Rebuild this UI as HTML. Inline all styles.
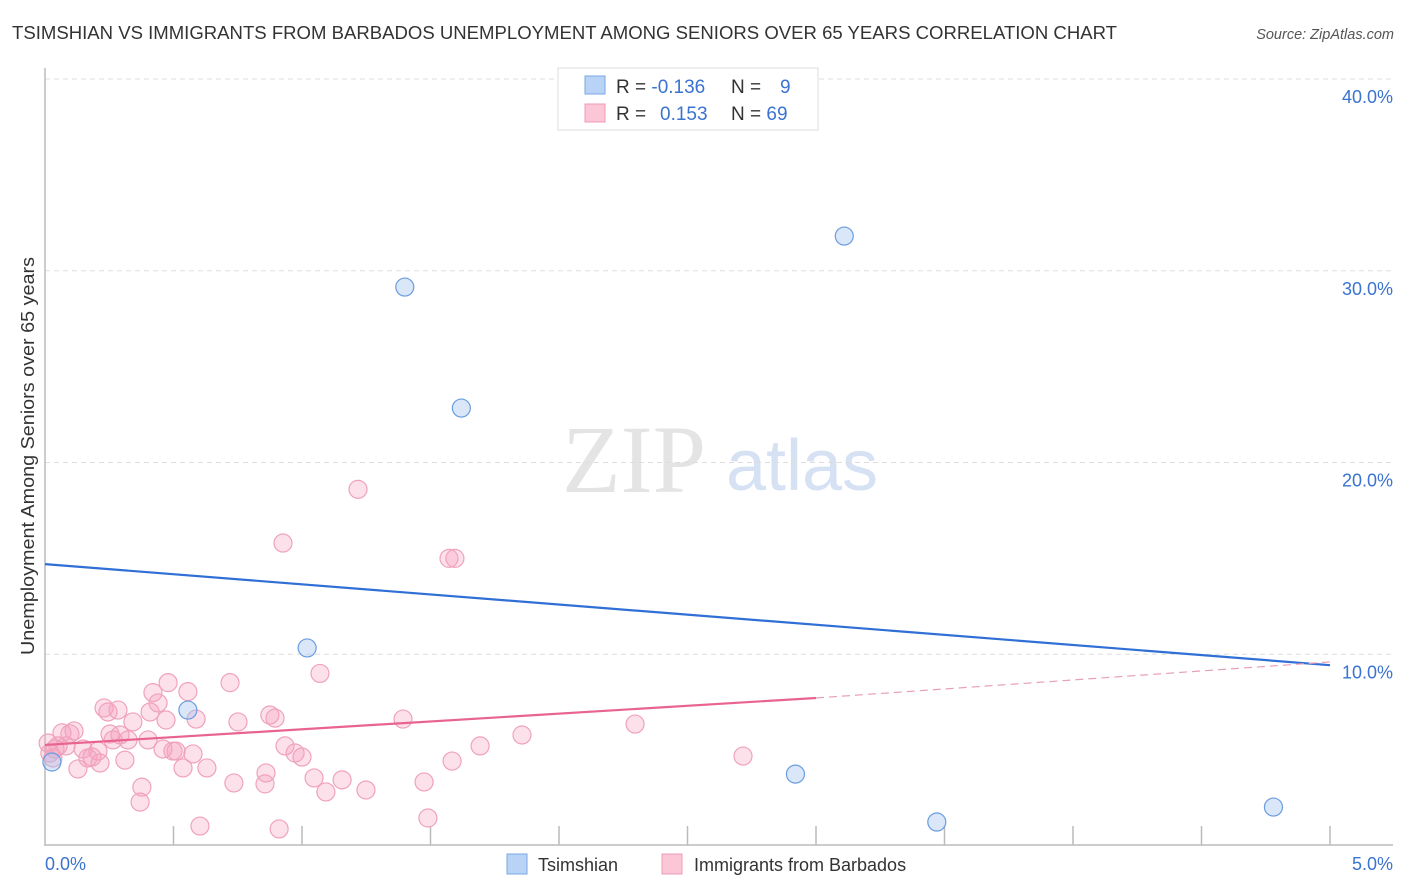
<!DOCTYPE html>
<html><head><meta charset="utf-8"><style>
body{margin:0;background:#fff;font-family:"Liberation Sans",sans-serif;}
svg{display:block}
</style></head><body>
<svg id="chart" width="1406" height="892" xmlns="http://www.w3.org/2000/svg">
<text x="12" y="39" font-size="18" fill="#333" textLength="1105" lengthAdjust="spacingAndGlyphs">TSIMSHIAN VS IMMIGRANTS FROM BARBADOS UNEMPLOYMENT AMONG SENIORS OVER 65 YEARS CORRELATION CHART</text>
<text x="1394" y="39" font-size="14.5" fill="#555" font-style="italic" text-anchor="end">Source: ZipAtlas.com</text>
<text x="634" y="492" font-size="96" fill="#e4e4e4" font-family="Liberation Serif,serif" text-anchor="middle">ZIP</text>
<text x="802" y="490" font-size="72" fill="#d6e2f4" text-anchor="middle">atlas</text>
<g id="grid"></g>
<g id="axes"></g>
<g id="marks"></g>
<text transform="translate(34,655) rotate(-90)" font-size="18" fill="#333" textLength="398" lengthAdjust="spacingAndGlyphs">Unemployment Among Seniors over 65 years</text>
<g>
<rect x="558" y="68" width="260" height="62" fill="#fff" stroke="#ddd"/>
<rect x="585" y="76" width="20" height="18" fill="#b8d3f5" stroke="#7aa7e2"/>
<rect x="585" y="104" width="20" height="18" fill="#fbc7d6" stroke="#f09ab6"/>
<text x="616" y="93" font-size="19" fill="#333">R = <tspan fill="#3a73d0">-0.136</tspan></text>
<text x="731" y="93" font-size="19" fill="#333">N = <tspan fill="#3a73d0" x="780">9</tspan></text>
<text x="616" y="120" font-size="19" fill="#333">R = <tspan fill="#3a73d0" x="660">0.153</tspan></text>
<text x="731" y="120" font-size="19" fill="#333">N = <tspan fill="#3a73d0">69</tspan></text>
</g>
<g>
<rect x="507" y="854" width="20" height="20" fill="#b8d3f5" stroke="#7aa7e2"/>
<text x="538" y="871" font-size="18" fill="#333">Tsimshian</text>
<rect x="662" y="854" width="20" height="20" fill="#fbc7d6" stroke="#f09ab6"/>
<text x="694" y="871" font-size="18" fill="#333">Immigrants from Barbados</text>
</g>
</svg>
<script>
const yTicks=[10,20,30,40];
const yTickLabels=["10.0%","20.0%","30.0%","40.0%"];
const xLabels=["0.0%","5.0%"];
const blueX=[0.027,0.556,1.02,1.40,1.62,3.11,2.92,3.47,4.78];
const blueY=[4.38,7.09,10.33,29.15,22.84,31.81,3.75,1.25,2.03];
const pinkX=[0.012,0.019,0.031,0.039,0.051,0.066,0.082,0.097,0.113,0.128,0.148,0.167,0.183,0.206,0.214,0.23,0.245,0.253,0.265,0.284,0.292,0.311,0.323,0.342,0.37,0.377,0.401,0.409,0.42,0.44,0.459,0.471,0.479,0.498,0.51,0.537,0.556,0.576,0.588,0.603,0.63,0.72,0.735,0.751,0.856,0.86,0.875,0.895,0.911,0.926,0.934,0.973,1.0,1.047,1.07,1.093,1.156,1.218,1.249,1.393,1.475,1.49,1.572,1.595,1.584,1.693,1.856,2.296,2.716];
const pinkY=[5.37,4.85,4.59,5.06,5.22,5.9,5.22,5.85,6.0,4.02,5.06,4.59,4.64,4.95,4.33,7.2,6.99,5.84,5.53,7.09,5.79,4.48,5.53,6.47,2.29,3.07,5.53,6.99,8.0,7.46,5.06,6.57,8.52,4.95,4.95,4.07,8.05,4.8,6.62,1.04,4.07,8.52,3.29,6.47,3.24,3.81,6.83,6.67,0.89,15.8,5.22,4.85,4.64,3.55,9.0,2.82,3.45,18.6,2.92,6.62,3.34,1.46,15.0,15.0,4.43,5.22,5.79,6.36,4.69];
const blueTrend=[14.7,9.43];
const pinkTrend=[5.27,7.72,9.6];
const NS="http://www.w3.org/2000/svg";
const X0=45,X1=1330,Y0=846,PPY=19.175;
const xs=v=>X0+v/5*(X1-X0);
const ys=v=>Y0-v*PPY;
function mk(tag,attrs,parent){const e=document.createElementNS(NS,tag);for(const k in attrs)e.setAttribute(k,attrs[k]);parent.appendChild(e);return e;}
const grid=document.getElementById('grid'),axes=document.getElementById('axes'),marks=document.getElementById('marks');
yTicks.forEach((t,i)=>{
 const l=mk('line',{x1:X0,x2:1393,y1:ys(t),y2:ys(t),stroke:'#ddd','stroke-dasharray':'5,4'},grid);
 
 
 const tx=mk('text',{x:1393,y:ys(t)+24,'font-size':18,fill:'#3a73d0','text-anchor':'end'},grid);
 tx.textContent=yTickLabels[i];
 
 
});
const ax=mk('line',{x1:X0,x2:X0,y1:68,y2:846,stroke:'#bbb','stroke-width':1.5},axes);


const bx=mk('line',{x1:X0,x2:1393,y1:845,y2:845,stroke:'#bbb','stroke-width':1.5},axes);


for(let i=1;i<=10;i++){const t=mk('line',{x1:xs(i*0.5),x2:xs(i*0.5),y1:826,y2:845,stroke:'#bbb','stroke-width':1.5},axes);
 
 }
[[X0,'start',0],[1393,'end',1]].forEach(([x,a,i])=>{const t=mk('text',{x:x,y:870,'font-size':18,fill:'#3a73d0','text-anchor':a},axes);t.textContent=xLabels[i];
 
 });
pinkX.forEach((v,i)=>{const c=mk('circle',{cx:xs(v),cy:ys(pinkY[i]),r:9,fill:'rgba(246,160,190,0.33)',stroke:'#f0a2bc','stroke-width':1.2},marks);
 
 });
blueX.forEach((v,i)=>{const c=mk('circle',{cx:xs(v),cy:ys(blueY[i]),r:9,fill:'rgba(160,195,240,0.4)',stroke:'#6a9de0','stroke-width':1.2},marks);
 
 });
const bl=mk('line',{x1:xs(0),y1:ys(blueTrend[0]),x2:xs(5),y2:ys(blueTrend[1]),stroke:'#2f6fd6','stroke-width':2.2},marks);


const pl=mk('line',{x1:xs(0),y1:ys(pinkTrend[0]),x2:xs(3.0),y2:ys(pinkTrend[1]),stroke:'#e8648f','stroke-width':2.2},marks);


const pd=mk('line',{x1:xs(3.0),y1:ys(pinkTrend[1]),x2:xs(5),y2:ys(pinkTrend[2]),stroke:'#e8a0b8','stroke-width':1.2,'stroke-dasharray':'8,5'},marks);


</script>
</body></html>
